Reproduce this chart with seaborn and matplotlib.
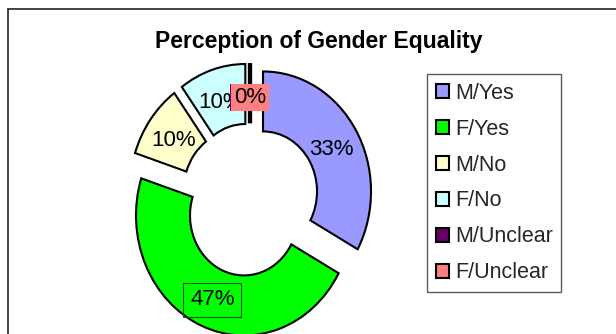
import matplotlib
matplotlib.use("Agg")
import matplotlib.pyplot as plt
import seaborn as sns
from matplotlib.patches import Patch
from matplotlib.lines import Line2D

# Survey responses by gender and answer
categories = ["M/Yes", "F/Yes", "M/No", "F/No", "M/Unclear", "F/Unclear"]
shares = [33, 47, 10, 10, 0, 0]
colors = ["#9999FF", "#00FF00", "#FFFFCC", "#CCFFFF", "#660066", "#FF8080"]
title = "Perception of Gender Equality"

sns.set_theme(style="white")
plt.rcParams["font.family"] = ["Liberation Sans", "DejaVu Sans"]

W, H = 616, 334
fig = plt.figure(figsize=(W / 100, H / 100), dpi=100)
fig.patch.set_facecolor("white")

# Donut centre and radii in pixels (slightly taller than wide)
cx, cy, rx, ry = 250, 200, 108, 120

ax = fig.add_axes([0, 0, 1, 1])
wedges, _, autotexts = ax.pie(
    shares,
    colors=colors,
    startangle=90,
    counterclock=False,
    explode=[0.14] * len(shares),
    autopct=lambda p: f"{p:.0f}%",
    pctdistance=0.74,
    wedgeprops=dict(width=0.5, edgecolor="black", linewidth=1.5),
    textprops=dict(fontsize=16, color="black"),
)
ax.set_aspect("auto")
ax.set_xlim(-cx / rx, (W - cx) / rx)
ax.set_ylim(-(H - cy) / ry, cy / ry)
ax.axis("off")

# Zero-share slices collapse to a single heavy stroke
for w, v in zip(wedges, shares):
    if v == 0:
        w.set_linewidth(3.0)

# Nudge value labels slightly downward
for t in autotexts:
    x, y = t.get_position()
    t.set_position((x, y - 3 / ry))

# Label styling: boxed value on the large slice, filled tags on zero slices
autotexts[1].set_bbox(dict(boxstyle="square,pad=0.3", facecolor="none",
                           edgecolor="#1a4d1a", linewidth=0.8))
for i in (4, 5):
    autotexts[i].set_bbox(dict(boxstyle="square,pad=0.12", facecolor=colors[i],
                               edgecolor="none"))
x4, y4 = autotexts[4].get_position()
autotexts[4].set_position((x4 - 1.5 / rx, y4))

# Title
fig.text(319 / W, 1 - 48 / H, title, ha="center", va="baseline",
         fontsize=16.5, fontweight="bold", color="black")

# Legend
handles = [Patch(facecolor=c, edgecolor="black", linewidth=1.5) for c in colors]
leg = fig.legend(
    handles, categories,
    loc="upper left",
    bbox_to_anchor=(427 / W, 1 - 74 / H),
    bbox_transform=fig.transFigure,
    borderaxespad=0,
    fontsize=15.5,
    frameon=True,
    fancybox=False,
    handlelength=0.6,
    handleheight=0.6,
    handletextpad=0.3,
    labelspacing=0.695,
    borderpad=0.4,
)
leg.get_frame().set_edgecolor("#333333")
leg.get_frame().set_linewidth(1.0)

# Outer chart-area border (top and left edges visible)
fig.add_artist(Line2D([8 / W, 1.0], [1 - 9 / H, 1 - 9 / H], transform=fig.transFigure,
                      color="#333333", linewidth=1.3))
fig.add_artist(Line2D([8 / W, 8 / W], [0.0, 1 - 9 / H], transform=fig.transFigure,
                      color="#333333", linewidth=1.3))

fig.savefig("out.png", dpi=100, facecolor="white")
